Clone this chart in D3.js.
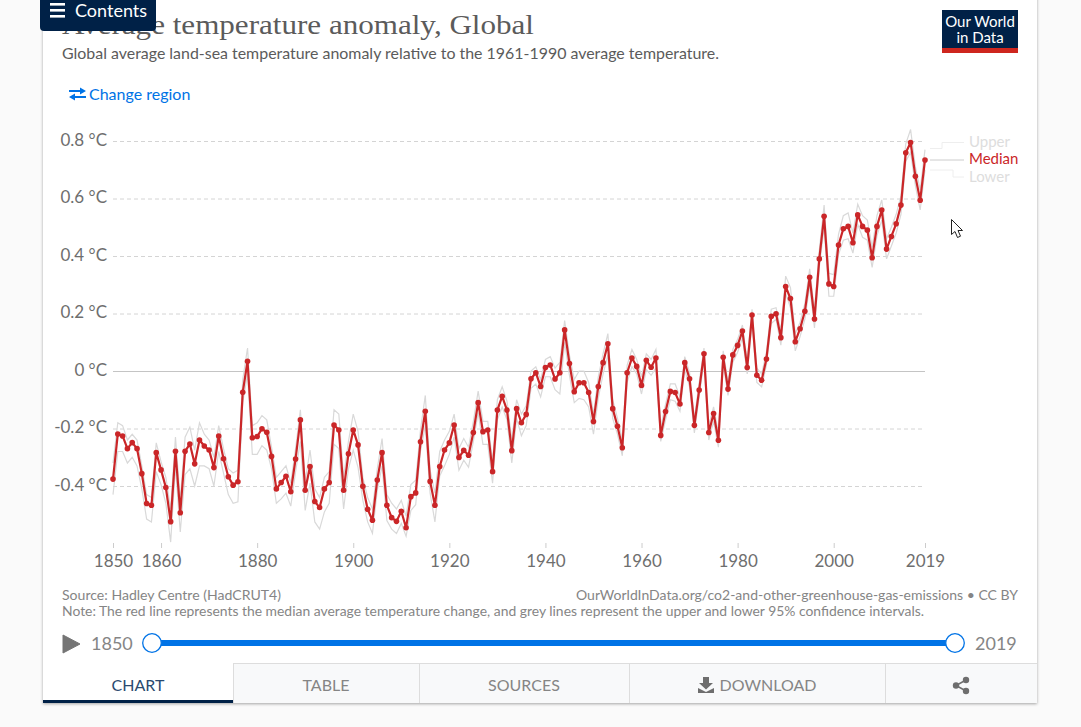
<!DOCTYPE html>
<html><head><meta charset="utf-8">
<script src="https://cdn.jsdelivr.net/npm/d3@7/dist/d3.min.js"></script>
<style>
html,body{margin:0;padding:0;background:#fafafa;overflow:hidden}
svg{display:block}
text{font-family:Lato,"Open Sans",sans-serif}
</style></head><body>
<svg id="c" width="1081" height="727"></svg>
<script>
const firstYear = 1850;
const median = [
-0.376,-0.219,-0.226,-0.270,-0.249,-0.270,-0.357,-0.461,-0.467,-0.284,
-0.344,-0.405,-0.524,-0.279,-0.493,-0.279,-0.254,-0.323,-0.240,-0.261,
-0.275,-0.336,-0.226,-0.305,-0.368,-0.397,-0.385,-0.074,0.034,-0.232,
-0.228,-0.201,-0.213,-0.297,-0.410,-0.388,-0.366,-0.420,-0.306,-0.170,
-0.415,-0.332,-0.454,-0.475,-0.410,-0.388,-0.188,-0.205,-0.415,-0.288,
-0.205,-0.257,-0.401,-0.481,-0.519,-0.379,-0.284,-0.467,-0.510,-0.523,
-0.488,-0.545,-0.437,-0.424,-0.246,-0.140,-0.384,-0.467,-0.332,-0.275,
-0.250,-0.188,-0.301,-0.276,-0.293,-0.214,-0.110,-0.211,-0.205,-0.350,
-0.136,-0.088,-0.136,-0.277,-0.131,-0.180,-0.151,-0.027,-0.006,-0.054,
0.012,0.021,-0.028,-0.006,0.143,0.026,-0.072,-0.041,-0.041,-0.075,
-0.176,-0.054,0.029,0.095,-0.131,-0.192,-0.267,-0.006,0.045,0.016,
-0.050,0.037,0.013,0.045,-0.224,-0.141,-0.071,-0.075,-0.115,0.029,
-0.027,-0.189,-0.066,0.060,-0.214,-0.148,-0.241,0.048,-0.063,0.056,
0.089,0.139,0.012,0.195,-0.015,-0.032,0.042,0.190,0.199,0.116,
0.294,0.252,0.102,0.147,0.208,0.326,0.181,0.390,0.538,0.303,
0.294,0.438,0.495,0.503,0.446,0.543,0.503,0.490,0.394,0.503,
0.560,0.424,0.468,0.512,0.577,0.759,0.795,0.677,0.594,0.734];
const upper = [
-0.32,-0.18,-0.19,-0.24,-0.22,-0.24,-0.33,-0.43,-0.44,-0.25,
-0.315,-0.37,-0.48,-0.23,-0.45,-0.23,-0.195,-0.275,-0.18,-0.22,
-0.24,-0.30,-0.19,-0.27,-0.34,-0.355,-0.345,-0.03,0.08,-0.19,
-0.18,-0.155,-0.17,-0.265,-0.37,-0.35,-0.33,-0.39,-0.27,-0.135,
-0.385,-0.275,-0.41,-0.44,-0.37,-0.35,-0.135,-0.15,-0.37,-0.245,
-0.15,-0.21,-0.37,-0.44,-0.48,-0.34,-0.235,-0.43,-0.46,-0.48,
-0.45,-0.505,-0.395,-0.38,-0.205,-0.085,-0.345,-0.425,-0.28,-0.24,
-0.21,-0.15,-0.27,-0.235,-0.265,-0.175,-0.07,-0.175,-0.175,-0.315,
-0.10,-0.055,-0.105,-0.24,-0.10,-0.15,-0.12,0.00,0.015,-0.03,
0.04,0.05,0.01,0.03,0.175,0.055,-0.03,0.00,0.00,-0.04,
-0.15,-0.02,0.06,0.13,-0.10,-0.165,-0.24,0.02,0.075,0.04,
-0.02,0.06,0.04,0.075,-0.195,-0.115,-0.045,-0.045,-0.09,0.05,
-0.005,-0.165,-0.04,0.08,-0.19,-0.125,-0.215,0.07,-0.04,0.075,
0.11,0.16,0.035,0.215,0.01,-0.01,0.065,0.215,0.22,0.14,
0.33,0.29,0.13,0.17,0.235,0.355,0.21,0.42,0.577,0.34,
0.335,0.475,0.54,0.55,0.48,0.58,0.54,0.525,0.43,0.54,
0.595,0.46,0.50,0.545,0.61,0.79,0.84,0.71,0.63,0.77];
const lower = [
-0.43,-0.28,-0.28,-0.32,-0.30,-0.33,-0.41,-0.515,-0.525,-0.35,
-0.395,-0.46,-0.595,-0.33,-0.56,-0.36,-0.34,-0.40,-0.33,-0.33,
-0.34,-0.40,-0.28,-0.355,-0.43,-0.46,-0.455,-0.11,-0.01,-0.29,
-0.29,-0.26,-0.275,-0.34,-0.46,-0.445,-0.425,-0.47,-0.35,-0.245,
-0.485,-0.39,-0.525,-0.55,-0.49,-0.46,-0.255,-0.27,-0.48,-0.34,
-0.275,-0.335,-0.45,-0.525,-0.565,-0.415,-0.33,-0.52,-0.55,-0.565,
-0.53,-0.575,-0.485,-0.465,-0.28,-0.19,-0.425,-0.525,-0.365,-0.33,
-0.29,-0.23,-0.345,-0.31,-0.335,-0.245,-0.145,-0.255,-0.255,-0.39,
-0.17,-0.125,-0.17,-0.32,-0.165,-0.225,-0.19,-0.06,-0.045,-0.09,
-0.02,-0.02,-0.065,-0.08,0.10,-0.015,-0.11,-0.095,-0.10,-0.125,
-0.22,-0.095,-0.01,0.055,-0.165,-0.22,-0.295,-0.04,0.015,-0.01,
-0.08,0.005,-0.015,0.01,-0.245,-0.17,-0.10,-0.105,-0.14,0.005,
-0.055,-0.215,-0.09,0.035,-0.24,-0.175,-0.265,0.025,-0.085,0.03,
0.065,0.115,-0.01,0.17,-0.04,-0.055,0.02,0.165,0.18,0.09,
0.27,0.22,0.07,0.12,0.18,0.295,0.15,0.36,0.50,0.26,
0.26,0.405,0.455,0.46,0.41,0.51,0.465,0.455,0.36,0.47,
0.525,0.39,0.435,0.48,0.545,0.73,0.76,0.645,0.56,0.70];
const yTicks = [-0.4,-0.2,0,0.2,0.4,0.6,0.8];
const xTicks = [1850,1860,1880,1900,1920,1940,1960,1980,2000,2019];
const legendLabels = ["Upper","Median","Lower"];
const tabLabels = ["CHART","TABLE","SOURCES","DOWNLOAD"];

const years = median.map((_, i) => firstYear + i);
const svg = d3.select("#c");
const x = d3.scaleLinear().domain([1850, 2019]).range([113, 925]);
const y = d3.scaleLinear().domain([0, 0.8]).range([371, 141]);
const RED = "#ca2628", NAVY = "#002147", BLUE = "#0073e6", GREY = "#858585";

// card
svg.append("defs").html('<filter id="sh" x="-3%" y="-3%" width="106%" height="106%"><feDropShadow dx="0" dy="1" stdDeviation="1.6" flood-color="#000" flood-opacity="0.35"/></filter>');
svg.append("rect").attr("x",43).attr("y",-10).attr("width",994).attr("height",713).attr("fill","#fff").attr("filter","url(#sh)");

// header
svg.append("text").attr("x",62).attr("y",34).attr("font-size",28).attr("fill","#5b5b5b")
  .attr("textLength",472).attr("lengthAdjust","spacingAndGlyphs")
  .style("font-family",'"Liberation Serif","DejaVu Serif",serif')
  .text("Average temperature anomaly, Global");
svg.append("text").attr("x",62).attr("y",59).attr("font-size",15).attr("fill","#5b5b5b")
  .attr("textLength",657).attr("lengthAdjust","spacingAndGlyphs")
  .text("Global average land-sea temperature anomaly relative to the 1961-1990 average temperature.");
// contents
svg.append("path").attr("d","M40,0H156V27a4,4 0 0 1 -4,4H44a4,4 0 0 1 -4,-4Z").attr("fill",NAVY);
svg.append("g").attr("fill","#fff").selectAll("rect").data([3,9,15]).join("rect")
  .attr("x",50).attr("y",d=>d).attr("width",15).attr("height",2.6);
svg.append("text").attr("x",75).attr("y",17).attr("font-size",18).attr("fill","#fff").text("Contents");
// logo
svg.append("rect").attr("x",942).attr("y",10).attr("width",76).attr("height",43).attr("fill",NAVY);
svg.append("rect").attr("x",942).attr("y",48).attr("width",76).attr("height",5).attr("fill","#ce261e");
svg.append("text").attr("x",980).attr("y",27).attr("text-anchor","middle").attr("font-size",15).attr("fill","#fff").text("Our World");
svg.append("text").attr("x",980).attr("y",43).attr("text-anchor","middle").attr("font-size",15).attr("fill","#fff").text("in Data");
// change region
svg.append("path").attr("fill",BLUE).attr("d","M69,90H80V87.5L86,91L80,94.5V92H69Z M86,96H75V93.5L69,97L75,100.5V98H86Z");
svg.append("text").attr("x",89).attr("y",99.5).attr("font-size",16).attr("fill",BLUE).text("Change region");

// axes
const yAxis = d3.axisLeft(y).tickValues(yTicks).tickSize(0).tickPadding(0)
  .tickFormat(d => (d === 0 ? "0" : d3.format(".1f")(d).replace("\u2212","-")) + " °C");
const gy = svg.append("g").attr("transform","translate(107,-1)").call(yAxis);
gy.select(".domain").remove();
gy.selectAll("text").attr("font-size",17).attr("fill","#6e6e6e").style("font-family","Lato,sans-serif");
svg.append("g").attr("transform","translate(0,0.5)").selectAll("line").data(yTicks).join("line")
  .attr("x1",113).attr("x2",925).attr("y1",d=>y(d)).attr("y2",d=>y(d))
  .attr("stroke",d=>d===0?"#c4c4c4":"#d4d4d4").attr("stroke-width",1)
  .attr("stroke-dasharray",d=>d===0?null:"4,3");
const xAxis = d3.axisBottom(x).tickValues(xTicks).tickSize(5).tickPadding(7).tickFormat(d3.format("d"));
const gx = svg.append("g").attr("transform","translate(0,543)").call(xAxis);
gx.select(".domain").remove();
gx.selectAll("line").attr("stroke","#ccc");
gx.selectAll("text").attr("font-size",17).attr("fill","#6e6e6e").style("font-family","Lato,sans-serif");

// lines
const line = d3.line().x((d,i)=>x(years[i])).y(d=>y(d));
[upper, lower].forEach(s => svg.append("path").datum(s).attr("d",line).attr("fill","none").attr("stroke","#d9d9d9").attr("stroke-width",1.2));
svg.append("path").datum(median).attr("d",line).attr("fill","none").attr("stroke",RED).attr("stroke-width",2.2).attr("stroke-linejoin","round");
svg.append("g").selectAll("circle").data(median).join("circle")
  .attr("cx",(d,i)=>x(years[i])).attr("cy",d=>y(d)).attr("r",2.8).attr("fill",RED);

// legend
const legendPaths = ["M930,148.5H942V142.5H964","M930,160H964","M930,170H953V177H964"];
const legendColors = ["#eee","#ccc","#eee"];
const legendText = ["#ddd",RED,"#ddd"];
const legendY = [147,164,182];
legendPaths.forEach((p,i)=>svg.append("path").attr("d",p).attr("fill","none").attr("stroke",legendColors[i]));
legendLabels.forEach((t,i)=>svg.append("text").attr("x",969).attr("y",legendY[i]).attr("font-size",15).attr("fill",legendText[i]).text(t));

// footer
svg.append("text").attr("x",62).attr("y",600).attr("font-size",14).attr("fill",GREY).attr("textLength",219).attr("lengthAdjust","spacingAndGlyphs").text("Source: Hadley Centre (HadCRUT4)");
svg.append("text").attr("x",576).attr("y",600).attr("font-size",14).attr("fill",GREY).attr("textLength",442).attr("lengthAdjust","spacingAndGlyphs").text("OurWorldInData.org/co2-and-other-greenhouse-gas-emissions • CC BY");
svg.append("text").attr("x",62).attr("y",616).attr("font-size",14).attr("fill",GREY).attr("textLength",862).attr("lengthAdjust","spacingAndGlyphs").text("Note: The red line represents the median average temperature change, and grey lines represent the upper and lower 95% confidence intervals.");

// timeline
svg.append("path").attr("d","M63,635L80,644L63,653Z").attr("fill","#757575").attr("stroke","#757575").attr("stroke-linejoin","round");
svg.append("text").attr("x",91).attr("y",650).attr("font-size",18).attr("fill",GREY).text(firstYear);
svg.append("text").attr("x",975).attr("y",650).attr("font-size",18).attr("fill",GREY).text(2019);
svg.append("rect").attr("x",152).attr("y",640).attr("width",803).attr("height",6).attr("fill",BLUE);
[152,955].forEach(cx=>svg.append("circle").attr("cx",cx).attr("cy",643).attr("r",9.3).attr("fill","#fff").attr("stroke",BLUE).attr("stroke-width",1.3));

// tabs
svg.append("rect").attr("x",233).attr("y",663).attr("width",804).attr("height",40).attr("fill","#f8f9fa");
svg.append("line").attr("x1",233).attr("x2",1037).attr("y1",663.5).attr("y2",663.5).attr("stroke","#ddd");
[233,419,629,885].forEach(v=>svg.append("line").attr("x1",v+.5).attr("x2",v+.5).attr("y1",663).attr("y2",703).attr("stroke","#ddd"));
svg.append("rect").attr("x",43).attr("y",700).attr("width",190).attr("height",3).attr("fill",NAVY);
const tabX = [138,326,524,768];
tabLabels.forEach((t,i)=>svg.append("text").attr("x",tabX[i]).attr("y",691).attr("text-anchor","middle").attr("font-size",16).attr("fill",i?GREY:"#2a4a6f").text(t));
// download + share icons
svg.append("path").attr("fill","#6e6e6e").attr("d","M703,677h6v6h4l-7,6.5l-7,-6.5h4Z M698,688l8,4l8,-4v5h-16Z");
svg.append("g").attr("fill","#6e6e6e").selectAll("circle").data([[956,685.5],[966,680],[966,691]]).join("circle")
  .attr("cx",d=>d[0]).attr("cy",d=>d[1]).attr("r",3.2);
svg.append("path").attr("d","M966,680L956,685.5L966,691").attr("fill","none").attr("stroke","#6e6e6e").attr("stroke-width",1.5);

// cursor
svg.append("path").attr("d","M951.5,219.5v15l3.5,-3l2.5,6l3,-1.3l-2.5,-5.7h4.5Z").attr("fill","#fff").attr("stroke","#222").attr("stroke-width",1);
</script>
</body></html>
